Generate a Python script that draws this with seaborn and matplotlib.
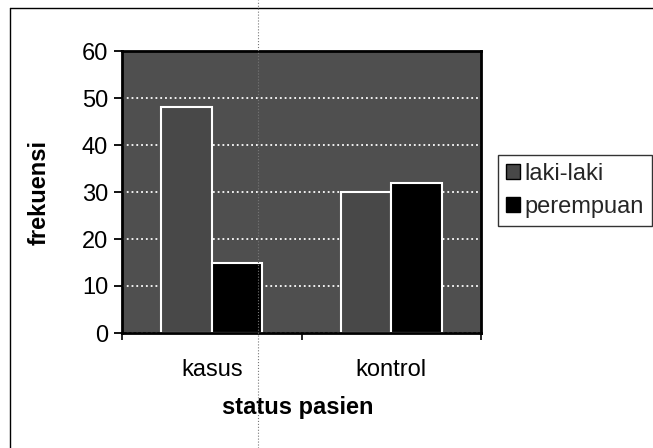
import matplotlib
matplotlib.use("Agg")
import matplotlib.pyplot as plt
import seaborn as sns
import pandas as pd
from matplotlib.lines import Line2D
from matplotlib.patches import Patch

# data
status = ["kasus", "kontrol"]
gender = ["laki-laki", "perempuan"]
laki_laki = [48, 30]
perempuan = [15, 32]
yticks = [0, 10, 20, 30, 40, 50, 60]

df = pd.DataFrame({
    "status pasien": status * 2,
    "jenis kelamin": [gender[0]] * 2 + [gender[1]] * 2,
    "frekuensi": laki_laki + perempuan,
})

sns.set_theme(style="white")
plt.rcParams["font.family"] = ["Liberation Sans", "DejaVu Sans"]
FS = 17

W, H = 653, 448
fig = plt.figure(figsize=(W / 100, H / 100), dpi=100)
ax = fig.add_axes([122 / W, 1 - 333 / H, (481 - 122) / W, (333 - 51) / H])
ax.set_facecolor("#4f4f4f")

colors = ["#484848", "#000000"]
sns.barplot(data=df, x="status pasien", y="frekuensi", hue="jenis kelamin",
            palette=colors, width=0.56, ax=ax, legend=False)
for cont in ax.containers:
    for bar in cont:
        bar.set_edgecolor("white")
        bar.set_linewidth(1.5)

ax.set_axisbelow(True)
ax.yaxis.grid(True, color="white", linestyle=":", linewidth=1.3)
ax.set_ylim(0, 60)
ax.set_xlim(-0.5, 1.5)
ax.set_yticks(yticks)
for s in ax.spines.values():
    s.set_color("black")
    s.set_linewidth(2)

ax.tick_params(axis="y", which="major", direction="out", length=6, width=1.3,
               color="black", left=True, labelsize=FS, pad=4, labelcolor="black")
ax.tick_params(axis="x", which="major", length=0, labelsize=FS, pad=19,
               labelcolor="black")
ax.set_xticks([-0.5, 0.5, 1.5], minor=True)
ax.tick_params(axis="x", which="minor", direction="out", length=5, width=1.2,
               color="black", bottom=True)

ax.set_ylabel("frekuensi", fontsize=FS, fontweight="bold", color="black")
ax.yaxis.set_label_coords(-0.198, 0.5)
ax.set_xlabel("status pasien", fontsize=FS, fontweight="bold", color="black")
ax.xaxis.set_label_coords(0.49, -0.225)

handles = [Patch(facecolor=colors[0], edgecolor="black", linewidth=1),
           Patch(facecolor=colors[1], edgecolor="black", linewidth=1)]
leg = ax.legend(handles, gender, loc="upper left",
                bbox_to_anchor=(498 / W, 1 - 155 / H), bbox_transform=fig.transFigure,
                frameon=True, fancybox=False, edgecolor="black", fontsize=FS,
                handlelength=0.6, handleheight=0.6, handletextpad=0.15,
                borderpad=0.35, labelspacing=0.45, borderaxespad=0)
leg.get_frame().set_linewidth(1)

# outer chart frame and scan fold line
fig.add_artist(Line2D([10 / W, 10 / W], [0, 1 - 8 / H], color="black", lw=1))
fig.add_artist(Line2D([10 / W, 1], [1 - 8 / H, 1 - 8 / H], color="black", lw=1))
fig.add_artist(Line2D([258 / W, 258 / W], [0, 1], color="#777777", lw=0.8,
                      linestyle=":"))

fig.savefig("out.png", dpi=100)
